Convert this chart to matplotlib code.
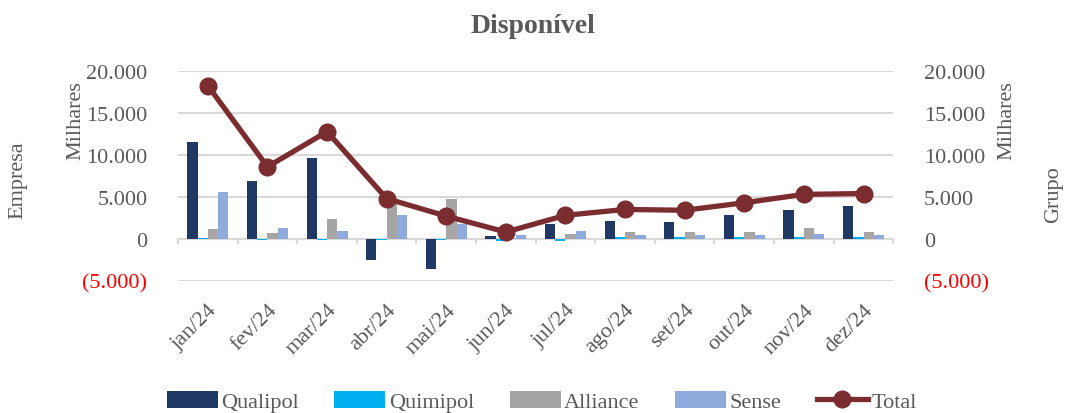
#!/usr/bin/env python3
import numpy as np
import matplotlib
matplotlib.use('Agg')
import matplotlib.pyplot as plt
from matplotlib.ticker import FuncFormatter, FixedLocator

# data (R$ mil)
months = ['jan/24', 'fev/24', 'mar/24', 'abr/24', 'mai/24', 'jun/24',
          'jul/24', 'ago/24', 'set/24', 'out/24', 'nov/24', 'dez/24']
qualipol = [11600, 6900, 9700, -2500, -3600, 300, 1700, 2100, 2050, 2850, 3400, 3950]
quimipol = [50, -100, -100, -100, -100, -300, -300, 200, 200, 200, 200, 200]
alliance = [1200, 700, 2400, 4700, 4800, 100, 600, 800, 800, 800, 1300, 800]
sense = [5600, 1300, 900, 2800, 1700, 400, 900, 500, 500, 500, 550, 500]
total = [18300, 8600, 12800, 4800, 2700, 800, 2800, 3500, 3400, 4300, 5300, 5400]
yticks = [-5000, 0, 5000, 10000, 15000, 20000]

series = [('Qualipol', qualipol, '#1f3864'),
          ('Quimipol', quimipol, '#00b0f0'),
          ('Alliance', alliance, '#a5a5a5'),
          ('Sense', sense, '#8faadc')]

GREY = '#595959'
plt.rcParams['font.family'] = ['Liberation Serif', 'DejaVu Serif']


def fmt(v, pos=None):
    s = f'{abs(v):,.0f}'.replace(',', '.')
    return f'({s})' if v < 0 else s


def main():
    fig = plt.figure(figsize=(10.66, 4.14), dpi=100)
    ax = fig.add_axes([0.167, 0.32, 0.671, 0.505])
    ax2 = ax.twinx()

    x = np.arange(len(months))
    w = 0.172
    for i, (name, vals, col) in enumerate(series):
        ax.bar(x + (i - 1.5) * w, vals, w, color=col, label=name, zorder=3)

    ax2.plot(x, total, color='#7b2c2f', lw=3.8, marker='o', ms=12,
             label='Total', zorder=4)

    for a in (ax, ax2):
        a.set_ylim(-5000, 20000)
        a.yaxis.set_major_locator(FixedLocator(yticks))
        a.yaxis.set_major_formatter(FuncFormatter(fmt))
        for s in a.spines.values():
            s.set_visible(False)
        a.tick_params(axis='y', length=0, labelsize=16, labelcolor=GREY)
    ax.set_xlim(-0.5, len(months) - 0.5)
    ax.tick_params(axis='y', pad=22)
    ax2.tick_params(axis='y', pad=22)
    for lab in ax.get_yticklabels() + ax2.get_yticklabels():
        if lab.get_text().startswith('('):
            lab.set_color('red')

    ax.grid(axis='y', color='#d9d9d9', lw=1.5, zorder=0)
    ax.axhline(0, color='#d9d9d9', lw=1.5, zorder=1)

    # category boundaries ticks
    ax.set_xticks(x)
    ax.set_xticklabels(months, rotation=45, ha='right',
                       rotation_mode='anchor', fontsize=16, color=GREY)
    ax.tick_params(axis='x', length=0, pad=14)
    for b in np.arange(-0.5, len(months)):
        ax.plot([b, b], [0, -500], color='#d9d9d9', lw=1.5, zorder=1,
                clip_on=False)

    ax.set_ylabel('Milhares', fontsize=16, color=GREY)
    ax2.set_ylabel('Milhares', fontsize=16, color=GREY)
    ax2.yaxis.set_label_coords(1.145, 0.77)
    ax.yaxis.set_label_coords(-0.13, 0.77)
    fig.text(0.008, 0.565, 'Empresa', rotation=90, fontsize=16, color=GREY,
             ha='left', va='center')
    fig.text(0.997, 0.53, 'Grupo', rotation=90, fontsize=16, color=GREY,
             ha='right', va='center')

    fig.suptitle('Disponível', fontsize=20, fontweight='bold', color=GREY,
                 y=0.965)

    h1, l1 = ax.get_legend_handles_labels()
    h2, l2 = ax2.get_legend_handles_labels()
    fig.legend(h1 + h2, l1 + l2, loc='lower center', ncol=5, frameon=False,
               fontsize=16, bbox_to_anchor=(0.508, -0.047),
               handlelength=2.3, handleheight=0.8, handletextpad=0.15,
               columnspacing=1.6, labelcolor=GREY)

    fig.savefig('out.png', dpi=100)


if __name__ == '__main__':
    main()
